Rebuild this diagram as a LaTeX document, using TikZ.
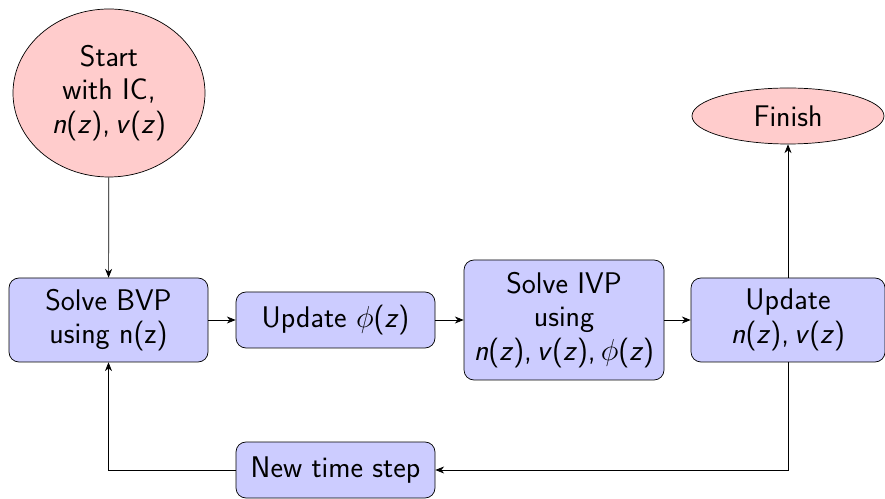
\documentclass[tikz,border=0pt]{standalone}
\usepackage{tikz}
\usetikzlibrary{arrows.meta, shapes.geometric, positioning}
\definecolor{boxblue}{RGB}{204, 204, 255}
\definecolor{endred}{RGB}{255, 204, 204}
\newcommand{\mv}[1]{\textit{#1}}

\begin{document}
\begin{tikzpicture}[
    stepbox/.style={draw, rounded corners=0.2cm, fill=boxblue, minimum width=3.98cm,
                    minimum height=#1, align=center, inner sep=1pt,
                    font=\sffamily\fontsize{17}{19}\selectfont},
    term/.style={draw, ellipse, fill=endred, inner sep=0pt, align=center,
                 font=\sffamily\fontsize{17}{19}\selectfont},
    arr/.style={-{Stealth[length=5pt, width=4pt]}}
]
\useasboundingbox (0,0) rectangle (17.7,9.96);

%% -- Start and finish ------------------------------------------------------
\node[term, minimum width=3.84cm, minimum height=3.36cm] (start) at (2.18, 8.10)
      {Start\\ with IC,\\ \mv{n}(\mv{z}),\,\mv{v}(\mv{z})};
\node[term, minimum width=3.84cm, minimum height=1.12cm] (finish) at (15.76, 7.64)
      {Finish};

%% -- Main row ----------------------------------------------------------------
\node[stepbox=1.68cm] (bvp) at (2.17, 3.56)  {Solve BVP\\ using n(z)};
\node[stepbox=1.12cm] (phi) at (6.71, 3.56)  {Update $\phi$(\mv{z})};
\node[stepbox=2.40cm, minimum width=4.0cm] (ivp) at (11.28, 3.56)
      {Solve IVP\\ using\\ \mv{n}(\mv{z}),\,\mv{v}(\mv{z}),\,$\phi$(\mv{z})};
\node[stepbox=1.68cm, minimum width=3.88cm] (upd) at (15.76, 3.56)
      {Update\\ \mv{n}(\mv{z}),\,\mv{v}(\mv{z})};

%% -- Loop back ---------------------------------------------------------------
\node[stepbox=1.12cm] (newt) at (6.71, 0.56) {New time step};

%% -- Connectors --------------------------------------------------------------
\draw[arr] (start) -- (bvp);
\draw[arr] (bvp) -- (phi); \draw[arr] (phi) -- (ivp); \draw[arr] (ivp) -- (upd);
\draw[arr] (upd) -- (finish);
\draw[arr] (upd.south) |- (newt.east);
\draw[arr] (newt.west) -| (bvp.south);
\end{tikzpicture}
\end{document}
